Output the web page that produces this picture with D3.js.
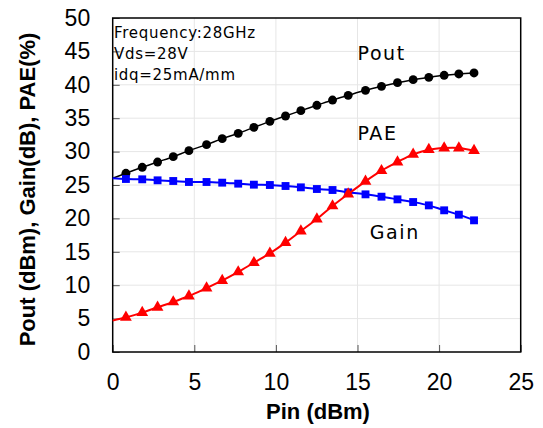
<!DOCTYPE html>
<html>
<head>
<meta charset="utf-8">
<script src="https://cdn.jsdelivr.net/npm/d3@7"></script>
<style>
body { margin: 0; background: #fff; }
.tick text { font-family: "Liberation Sans", Arial, sans-serif; font-size: 23px; fill: #000; }
.note { font-family: "DejaVu Sans", sans-serif; fill: #000; }
</style>
</head>
<body>
<div class="chart"></div>
<script>
const width = 543;
const height = 428;

// Pin values (dBm)
const pin = [0.81, 1.81, 2.75, 3.71, 4.67, 5.75, 6.71, 7.69, 8.65, 9.63, 10.59, 11.53,
    12.51, 13.47, 14.43, 15.49, 16.47, 17.45, 18.41, 19.37, 20.31, 21.21, 22.14];
const pout = [26.75, 27.65, 28.44, 29.24, 30.14, 31.04, 31.94, 32.73, 33.63, 34.53, 35.33, 36.13,
    36.93, 37.72, 38.42, 39.17, 39.77, 40.32, 40.77, 41.12, 41.42, 41.62, 41.77];
const gain = [25.9, 25.85, 25.7, 25.6, 25.45, 25.45, 25.35, 25.2, 25.05, 25.0, 24.85, 24.65,
    24.4, 24.25, 23.9, 23.6, 23.25, 22.85, 22.45, 21.95, 21.21, 20.56, 19.71];
const pae = [5.19, 5.89, 6.69, 7.49, 8.38, 9.58, 10.68, 11.98, 13.37, 14.77, 16.37, 18.11,
    19.91, 21.86, 23.65, 25.55, 27.14, 28.44, 29.59, 30.29, 30.54, 30.54, 30.14];
// where the fitted lines meet Pin = 0
const lineStart = { pout: 26.0, gain: 26.0, pae: 4.7 };

const xTicks = [0, 5, 10, 15, 20, 25];
const yTicks = [0, 5, 10, 15, 20, 25, 30, 35, 40, 45, 50];
const notes = ["Frequency:28GHz", "Vds=28V", "idq=25mA/mm"];

const margin = { top: 18, right: 22.3, bottom: 76, left: 112.7 };

let svg = d3.select(".chart")
    .append("svg")
    .attr("width", width)
    .attr("height", height);

let x = d3.scaleLinear().domain([0, 25]).range([margin.left, width - margin.right]);
let y = d3.scaleLinear().domain([0, 50]).range([height - margin.bottom, margin.top]);

// grid
svg.append("g")
    .selectAll("line.gx")
    .data(xTicks.slice(1, -1))
    .enter().append("line")
    .attr("x1", d => x(d)).attr("x2", d => x(d))
    .attr("y1", y(0)).attr("y2", y(50))
    .attr("stroke", "#e6e6e6");
svg.append("g")
    .selectAll("line.gy")
    .data(yTicks.slice(1, -1))
    .enter().append("line")
    .attr("x1", x(0)).attr("x2", x(25))
    .attr("y1", d => y(d)).attr("y2", d => y(d))
    .attr("stroke", "#e6e6e6");

// axes, ticks pointing inside
svg.append("g")
    .attr("transform", `translate(0,${y(0)})`)
    .call(d3.axisBottom(x).tickValues(xTicks).tickSizeInner(-7).tickSizeOuter(0).tickPadding(22))
    .call(g => g.select(".domain").remove())
    .call(g => g.selectAll(".tick line").attr("stroke", "#555"));
svg.append("g")
    .attr("transform", `translate(${x(0)},0)`)
    .call(d3.axisLeft(y).tickValues(yTicks).tickSizeInner(-7).tickSizeOuter(0).tickPadding(22.5))
    .call(g => g.select(".domain").remove())
    .call(g => g.selectAll(".tick line").attr("stroke", "#555"));

svg.append("rect")
    .attr("x", x(0)).attr("y", y(50))
    .attr("width", x(25) - x(0)).attr("height", y(0) - y(50))
    .attr("fill", "none").attr("stroke", "#000").attr("stroke-width", 1.5);

// series
let series = [
    { key: "pout", values: pout, color: "#000", width: 1.5, shape: d3.symbolCircle, size: 62 },
    { key: "gain", values: gain, color: "#0000ff", width: 2, shape: d3.symbolSquare, size: 62 },
    { key: "pae", values: pae, color: "#ff0000", width: 2, shape: d3.symbolTriangle, size: 60 }
];

let line = d3.line()
    .x(d => x(d[0]))
    .y(d => y(d[1]))
    .curve(d3.curveCatmullRom);

series.forEach(s => {
    let pts = [[0, lineStart[s.key]]].concat(pin.map((p, i) => [p, s.values[i]]));
    svg.append("path")
        .attr("d", line(pts))
        .attr("fill", "none")
        .attr("stroke", s.color)
        .attr("stroke-width", s.width);

    svg.append("g")
        .selectAll("path")
        .data(pin.map((p, i) => [p, s.values[i]]))
        .enter().append("path")
        .attr("d", d3.symbol().type(s.shape).size(s.size))
        .attr("transform", d => `translate(${x(d[0])},${y(d[1])})`)
        .attr("fill", s.color);
});

// notes
svg.append("g")
    .selectAll("text")
    .data(notes)
    .enter().append("text")
    .attr("class", "note")
    .attr("x", 114)
    .attr("y", (d, i) => 37.7 + i * 21.3)
    .attr("font-size", 15)
    .attr("letter-spacing", 0.7)
    .text(d => d);

let labels = [
    { text: "Pout", px: 15.0, val: 43.7 },
    { text: "PAE", px: 15.0, val: 31.7 },
    { text: "Gain", px: 15.75, val: 16.87 }
];
svg.append("g")
    .selectAll("text")
    .data(labels)
    .enter().append("text")
    .attr("class", "note")
    .attr("x", d => x(d.px))
    .attr("y", d => y(d.val))
    .attr("font-size", 19)
    .attr("letter-spacing", 1.6)
    .text(d => d.text);

// axis titles
svg.append("text")
    .attr("x", 318)
    .attr("y", 419)
    .attr("text-anchor", "middle")
    .style("font-family", "'Liberation Sans', Arial, sans-serif")
    .style("font-weight", "bold")
    .style("font-size", "22px")
    .text("Pin (dBm)");

svg.append("text")
    .attr("transform", `translate(35,189.5) rotate(-90)`)
    .attr("text-anchor", "middle")
    .style("font-family", "'Liberation Sans', Arial, sans-serif")
    .style("font-weight", "bold")
    .style("font-size", "22px")
    .text("Pout (dBm), Gain(dB), PAE(%)");
</script>
</body>
</html>
